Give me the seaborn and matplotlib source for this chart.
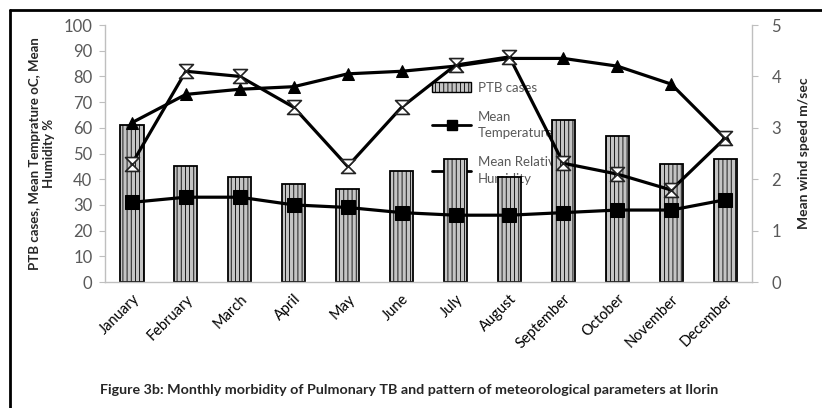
import numpy as np
import pandas as pd
import matplotlib
matplotlib.use('Agg')
import matplotlib.pyplot as plt
import seaborn as sns
from matplotlib.path import Path
from matplotlib.patches import Patch
from matplotlib.lines import Line2D

# dados
meses = ['January', 'February', 'March', 'April', 'May', 'June', 'July',
         'August', 'September', 'October', 'November', 'December']
casos_ptb = [61, 45, 41, 38, 36, 43, 48, 41, 63, 57, 46, 48]
temperatura = [31, 33, 33, 30, 29, 27, 26, 26, 27, 28, 28, 32]
umidade = [62, 73, 75, 76, 81, 82, 84, 87, 87, 84, 77, 56]
vento = [2.3, 4.1, 4.0, 3.4, 2.25, 3.4, 4.22, 4.38, 2.31, 2.1, 1.79, 2.8]

sns.set_style('white')
plt.rcParams['font.family'] = ['Lato', 'DejaVu Sans']
plt.rcParams['hatch.color'] = '#606060'
plt.rcParams['hatch.linewidth'] = 0.6

df = pd.DataFrame({'mes': meses, 'pos': np.arange(len(meses)), 'ptb': casos_ptb,
                   'temp': temperatura, 'umid': umidade, 'vento': vento})

fig = plt.figure(figsize=(8.22, 4.08), dpi=100)
ax = fig.add_axes([0.1277, 0.3088, 0.7873, 0.6299])

cinza = '#bfbfbf'
texto = '#595959'

sns.barplot(data=df, x='mes', y='ptb', color='#c4c4c4', width=0.43,
            edgecolor='black', linewidth=1.3, hatch='||||', ax=ax, zorder=2)

sns.lineplot(data=df, x='pos', y='umid', color='black', linewidth=2.3,
             marker='^', markersize=9, markeredgecolor='black', ax=ax, zorder=4)
sns.lineplot(data=df, x='pos', y='temp', color='black', linewidth=2.3,
             marker='s', markersize=10, markeredgecolor='black', ax=ax, zorder=4)

ax2 = ax.twinx()
ampulheta = Path([(-1, 1), (1, 1), (-1, -1), (1, -1), (-1, 1)],
                 [Path.MOVETO, Path.LINETO, Path.LINETO, Path.LINETO, Path.CLOSEPOLY])
sns.lineplot(data=df, x='pos', y='vento', color='black', linewidth=2.3,
             marker=ampulheta, markersize=10, markerfacecolor='white',
             markeredgecolor='#222222', markeredgewidth=1.2, ax=ax2, zorder=5)

ax.set_xlim(-0.5, 11.5)
ax.set_ylim(0, 100)
ax.set_yticks(range(0, 101, 10))
ax2.set_ylim(0, 5)
ax2.set_yticks(range(0, 6))

ax.set_xticks(np.arange(12))
ax.set_xticklabels(meses, rotation=45, ha='right', rotation_mode='anchor',
                   fontsize=10.5, color='black')
ax.set_xticks(np.arange(-0.5, 12, 1), minor=True)
ax.tick_params(axis='x', which='major', length=0, pad=7)
ax.tick_params(axis='x', which='minor', length=4, color=cinza, direction='out')
ax.tick_params(axis='y', length=4, color=cinza, direction='out', labelsize=12,
               labelcolor=texto, left=True, pad=5)
ax2.tick_params(axis='y', length=4, color=cinza, direction='out', labelsize=12,
                labelcolor=texto, right=True, pad=10)

ax.set_xlabel('')
ax.set_ylabel('PTB cases, Mean Temprature oC, Mean\nHumidity %', fontsize=9.5,
              fontweight='bold', labelpad=6, linespacing=1.2)
ax2.set_ylabel('Mean wind speed m/sec', fontsize=10, fontweight='bold', labelpad=12)

for a in (ax, ax2):
    for lado in ['top', 'left', 'right', 'bottom']:
        a.spines[lado].set_visible(False)
ax.spines['left'].set_visible(True)
ax.spines['bottom'].set_visible(True)
ax2.spines['right'].set_visible(True)
for sp in [ax.spines['left'], ax.spines['bottom'], ax2.spines['right']]:
    sp.set_color(cinza)
    sp.set_linewidth(1)

# legenda
itens = [Patch(facecolor='#c4c4c4', edgecolor='black', hatch='||||', label='PTB cases'),
         Line2D([], [], color='black', lw=2, marker='s', markersize=7, label='Mean\nTemperature'),
         Line2D([], [], color='black', lw=2, marker='^', markersize=7, label='Mean Relative\nHumidity')]
leg = ax.legend(handles=itens, loc='upper left', bbox_to_anchor=(0.497, 0.80),
                frameon=False, fontsize=9.5, labelspacing=1.3, handlelength=3,
                handletextpad=0.5, borderaxespad=0)
for t in leg.get_texts():
    t.set_color(texto)
    t.set_linespacing(1.45)
leg.set_zorder(1)

fig.text(0.122, 0.035, 'Figure 3b: Monthly morbidity of Pulmonary TB and pattern of '
         'meteorological parameters at Ilorin', fontsize=10.3, fontweight='bold')

# moldura
fig.add_artist(Line2D([0.012, 1.0], [0.975, 0.975], color='black', lw=2))
fig.add_artist(Line2D([0.012, 0.012], [0.0, 0.975], color='black', lw=2))

fig.savefig('out.png', dpi=100)
